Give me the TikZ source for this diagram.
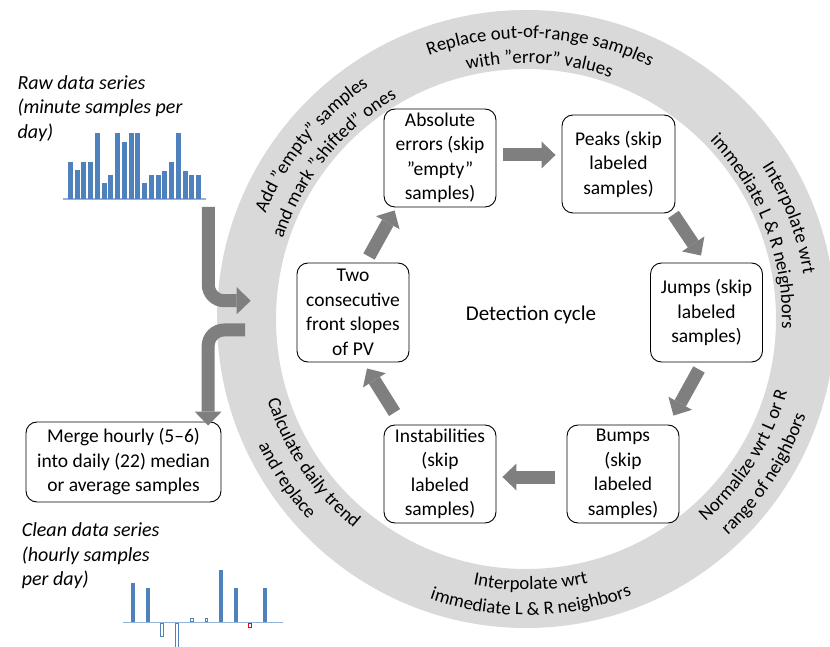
\documentclass[tikz,border=0pt]{standalone}
\usepackage{fontspec}
\setmainfont{Carlito}
\usetikzlibrary{arrows.meta,decorations.text}
\definecolor{ringgray}{HTML}{D9D9D9}
\definecolor{arrgray}{HTML}{7F7F7F}
\definecolor{barblue}{HTML}{4F81BD}
\definecolor{axisblue}{HTML}{95B3D7}
\newcommand{\boxfont}{\fontsize{19.5}{24.5}\selectfont}
\newcommand{\sidefont}{\fontsize{20}{24.5}\selectfont\itshape}
\newcommand{\ringfont}{\fontsize{18.8}{21}\selectfont}
\begin{document}
\begin{tikzpicture}[x=1pt,y=1pt,
  stepbox/.style={draw=black, line width=0.9pt, rounded corners=11pt, fill=white,
    minimum width=112pt, minimum height=98pt, align=center, font=\boxfont, inner sep=0pt},
  bigarrow/.style={draw=arrgray, line width=13pt,
    -{Triangle[width=27pt,length=14pt,line width=0pt]}},
  ringtext/.style={decorate, decoration={text along path, text align=center, text={#1}}},
  hollowbar/.style={draw=barblue, fill=white, line width=0.8pt},
  sidetext/.style={anchor=base west, align=left, font=\sidefont, inner sep=0pt},
]
\useasboundingbox (0,0) rectangle (830,646);
\clip (0,0) rectangle (830,646);

% ring
\coordinate (C) at (526,327);
\fill[ringgray, even odd rule] (C) circle[radius=309] (C) circle[radius=250];

% ring texts (clockwise, tops outward)
\path[ringtext={|\ringfont|Replace out-of-range samples}] ([shift={(137:281)}]C) arc[start angle=137,end angle=37,radius=281];
\path[ringtext={|\ringfont|with ”error” values}] ([shift={(137:256)}]C) arc[start angle=137,end angle=37,radius=256];
\path[ringtext={|\ringfont|Interpolate wrt}] ([shift={(71:281)}]C) arc[start angle=71,end angle=-29,radius=281];
\path[ringtext={|\ringfont|immediate L {\&} R neighbors}] ([shift={(71:256)}]C) arc[start angle=71,end angle=-29,radius=256];
\path[ringtext={|\ringfont|Add ”empty” samples}] ([shift={(191:281)}]C) arc[start angle=191,end angle=91,radius=281];
\path[ringtext={|\ringfont|and mark ”shifted” ones}] ([shift={(191:256)}]C) arc[start angle=191,end angle=91,radius=256];
% ring texts (counterclockwise, tops inward)
\path[ringtext={|\ringfont|Interpolate wrt}] ([shift={(221:271)}]C) arc[start angle=221,end angle=321,radius=271];
\path[ringtext={|\ringfont|immediate L {\&} R neighbors}] ([shift={(221:296)}]C) arc[start angle=221,end angle=321,radius=296];
\path[ringtext={|\ringfont|Normalize wrt L or R}] ([shift={(278:271)}]C) arc[start angle=278,end angle=378,radius=271];
\path[ringtext={|\ringfont|range of neighbors}] ([shift={(277:296)}]C) arc[start angle=277,end angle=377,radius=296];
\path[ringtext={|\ringfont|Calculate daily trend}] ([shift={(164:271)}]C) arc[start angle=164,end angle=264,radius=271];
\path[ringtext={|\ringfont|and replace}] ([shift={(164:296)}]C) arc[start angle=164,end angle=264,radius=296];

% cycle boxes
\node[stepbox] (abs) at (440,488) {Absolute\\errors (skip\\”empty”\\samples)};
\node[stepbox, minimum width=113pt] (peaks) at (618.5,482) {Peaks (skip\\labeled\\samples)};
\node[stepbox, minimum height=99pt] (jumps) at (706.5,333.5) {Jumps (skip\\labeled\\samples)};
\node[stepbox] (bumps) at (623,172) {Bumps\\(skip\\labeled\\samples)};
\node[stepbox] (instab) at (440,172) {Instabilities\\(skip\\labeled\\samples)};
\node[stepbox, minimum height=99pt] (two) at (353,333.5) {Two\\consecutive\\front slopes\\of PV};
\node[font=\fontsize{21}{25}\selectfont, inner sep=0pt] (cycle) at (531,331) {Detection cycle};

% cycle arrows
\draw[bigarrow] ([shift={(7,3)}]abs.east) -- ([shift={(-6,9)}]peaks.west);
\draw[bigarrow] ([shift={(-2,-1)}]peaks.south east) -- ([shift={(-5.5,7)}]jumps.north);
\draw[bigarrow] ([shift={(-7.5,-7)}]jumps.south) -- ([shift={(-6,9)}]bumps.north east);
\draw[bigarrow] ([shift={(-12,-3)}]bumps.west) -- ([shift={(6,-3)}]instab.east);
\draw[bigarrow] ([shift={(11,12)}]instab.north west) -- ([shift={(14,-6)}]two.south);
\draw[bigarrow] ([shift={(16,6)}]two.north) -- ([shift={(11,-3)}]abs.south west);

% merge box
\node[stepbox, minimum width=195pt, minimum height=80pt] (merge) at (123.5,184)
  {Merge hourly (5–6)\\into daily (22) median\\or average samples};

% side texts (anchored at the baseline of their last line)
\node[sidetext] (rawtxt) at (17.3,507.5) {Raw data series\\(minute samples per\\day)};
\node[sidetext] (cleantxt) at (21.7,60.5) {Clean data series\\(hourly samples\\per day)};

% raw data chart
\draw[axisblue, line width=2pt] (62.7,446.5) -- (206,446.5);
\foreach \h [count=\i from 0] in {37.3,29.3,37.3,37.3,66.3,16.3,24.3,66.3,57.3,66.3,66.3,16.3,24.3,24.3,28.3,37.3,66.3,28.3,24.3,24.3}
  \fill[barblue] ({68+6.74*\i},446.5) rectangle ++(5,\h);

% clean data chart
\draw[axisblue, line width=1.6pt] (122.7,23.7) -- (283.3,23.7);
\fill[barblue] (131,23.7) rectangle (135,63.3);
\fill[barblue] (146,23.7) rectangle (150,58);
\fill[barblue] (219,23.7) rectangle (223,76);
\fill[barblue] (234,23.7) rectangle (238,58);
\fill[barblue] (262.7,23.7) rectangle (266.7,58);
\draw[hollowbar] (160.5,23) rectangle (163.5,10);
\draw[hollowbar] (175.5,23) rectangle (178.5,-2);
\draw[hollowbar] (190.5,24.5) rectangle (193,28);
\draw[hollowbar] (205,24.5) rectangle (207.5,28);
\draw[red, fill=white, line width=0.8pt] (248.5,23) rectangle (251.5,18.5);

% in / out arrows
\coordinate (rawbottom) at (208.3,439);
\coordinate (ringin) at (250.7,345.3);
\coordinate (ringout) at (245,316);
\draw[bigarrow, rounded corners=16pt] (rawbottom) |- (ringin);
\draw[bigarrow, rounded corners=16pt] (ringout) -| ([shift={(-13.3,-4)}]merge.north east);
\end{tikzpicture}
\end{document}
